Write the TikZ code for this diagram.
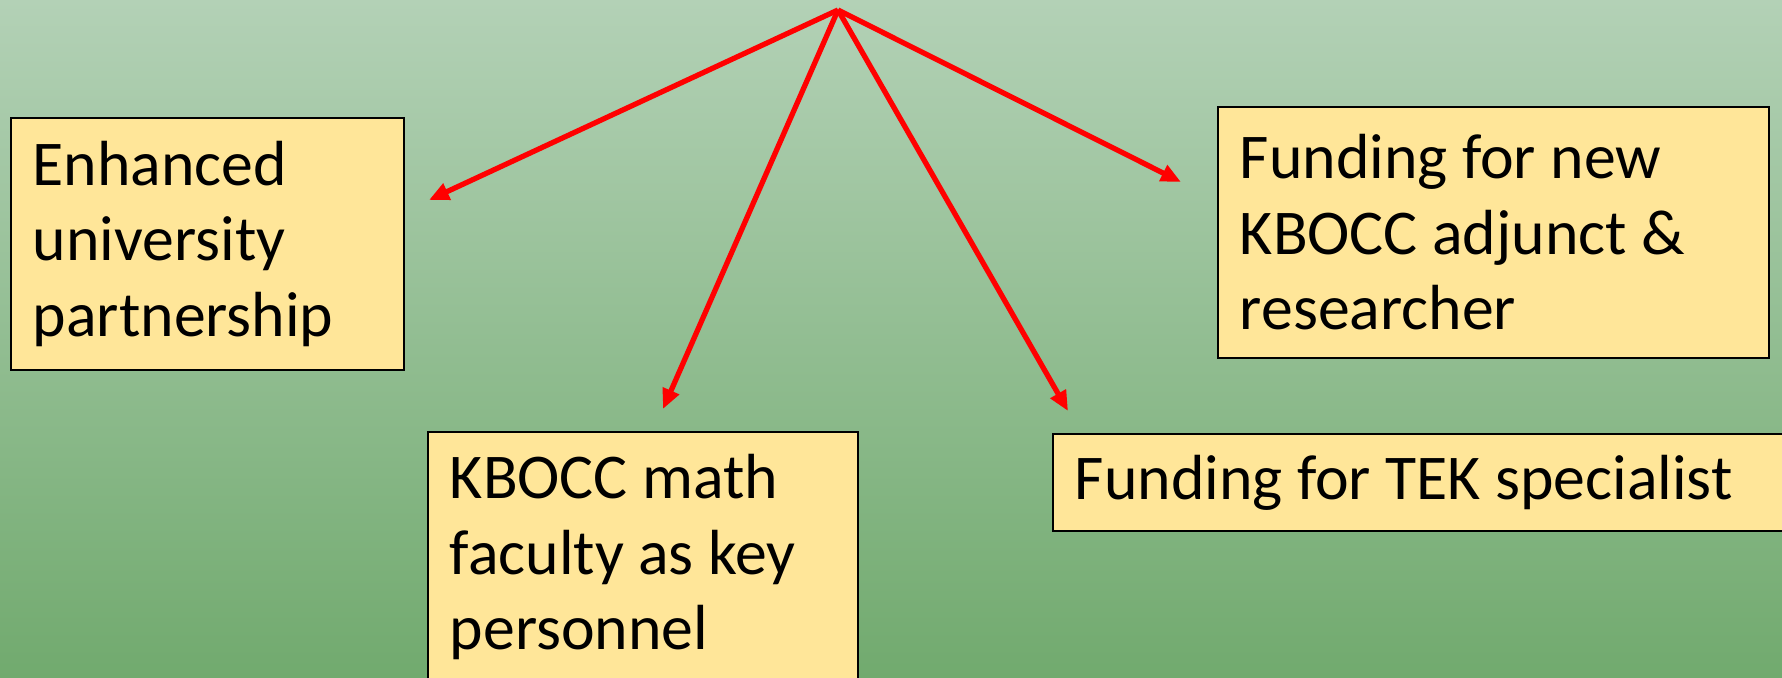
\documentclass[tikz,border=0pt]{standalone}
\usepackage{fontspec}
\setmainfont{Carlito}
\usetikzlibrary{arrows.meta}
\definecolor{boxfill}{HTML}{FFE699}
\definecolor{bgtop}{RGB}{179,209,182}
\definecolor{bgbottom}{RGB}{113,170,110}
\tikzset{
	goalbox/.style={draw=black, line width=1pt, fill=boxfill, anchor=north west, align=flush left,
		inner xsep=0.44cm, inner ysep=0pt, font=\fontsize{36.3}{43}\selectfont},
	goalarrow/.style={draw=red, line width=3pt, -{Triangle[length=0.4cm,width=0.34cm]}}
}
\begin{document}
\begin{tikzpicture}[x=0.02cm, y=-0.02cm]
				\clip (0,0) rectangle (1782,678);
				\fill[top color=bgtop, bottom color=bgbottom] (0,0) rectangle (1782,678);
				\node[goalbox, text width=6.98cm, minimum height=5.04cm] (partner) at (10,117) {Enhanced\\ university\\ partnership};
				\node[goalbox, text width=7.72cm, minimum height=5.02cm] (faculty) at (427,431) {KBOCC math\\ faculty as key\\ personnel};
				\node[goalbox, text width=10.14cm, minimum height=5.02cm] (adjunct) at (1217,106) {Funding for new\\ KBOCC adjunct \&\\ researcher};
				\node[goalbox, text width=13.9cm, minimum height=1.94cm] (tek) at (1052,433) {Funding for TEK specialist};
				\coordinate (apex) at (838,10);
				\coordinate (toPartner) at (429,200);
				\coordinate (toFaculty) at (663,409);
				\coordinate (toAdjunct) at (1181,182);
				\coordinate (toTek) at (1068,411);
				\draw[goalarrow] (apex) -- (toPartner);
				\draw[goalarrow] (apex) -- (toFaculty);
				\draw[goalarrow] (apex) -- (toAdjunct);
				\draw[goalarrow] (apex) -- (toTek);
			\end{tikzpicture}
\end{document}
